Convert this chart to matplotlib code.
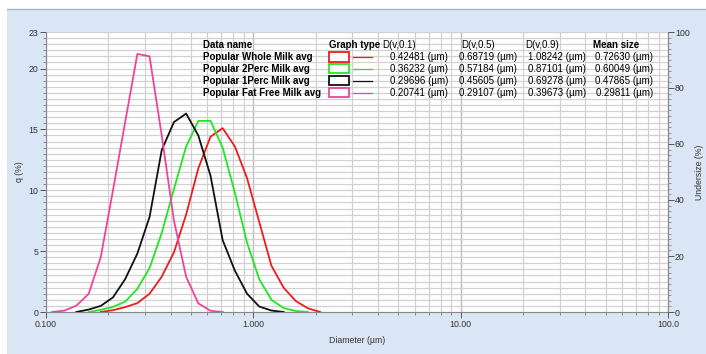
import matplotlib.pyplot as plt
from matplotlib.ticker import FixedLocator, MultipleLocator, FuncFormatter
from matplotlib.patches import Rectangle
from matplotlib.lines import Line2D

plt.rcParams['font.family'] = ['Liberation Sans', 'DejaVu Sans']

# size classes (um) shared by all samples
diam = [0.1069, 0.1224, 0.1401, 0.1605, 0.1837, 0.2104, 0.2409, 0.2758,
        0.3158, 0.3616, 0.4141, 0.4741, 0.5428, 0.6215, 0.7113, 0.8145,
        0.9325, 1.0676, 1.2225, 1.3996, 1.6025, 1.8348, 2.1007]

# q (%) per sample, starting at the given class index
whole_start = 4
whole_q = [0, 0.15, 0.4, 0.73, 1.5, 2.9, 4.9, 8.0, 11.8, 14.4, 15.1, 13.6,
           11.0, 7.4, 3.8, 2.0, 0.9, 0.3, 0]
perc2_start = 3
perc2_q = [0, 0.18, 0.42, 0.85, 1.9, 3.6, 6.5, 10.1, 13.6, 15.7, 15.7, 13.5,
           9.8, 5.7, 2.7, 1.0, 0.33, 0.08, 0]
perc1_start = 2
perc1_q = [0, 0.2, 0.5, 1.2, 2.7, 4.8, 7.8, 13.3, 15.6, 16.3, 14.5, 11.2,
           5.9, 3.4, 1.5, 0.45, 0.12, 0]
fatfree_start = 0
fatfree_q = [0, 0.11, 0.52, 1.48, 4.5, 10.0, 15.6, 21.2, 21.0, 14.5, 7.5,
             2.9, 0.71, 0.1, 0]

names = ["Popular Whole Milk avg", "Popular 2Perc Milk avg",
         "Popular 1Perc Milk avg", "Popular Fat Free Milk avg"]
colors = ["#ee1c1c", "#22e622", "#111111", "#f0449c"]
d10 = ["0.42481", "0.36232", "0.29696", "0.20741"]
d50 = ["0.68719", "0.57184", "0.45605", "0.29107"]
d90 = ["1.08242", "0.87101", "0.69278", "0.39673"]
mean_size = ["0.72630", "0.60049", "0.47865", "0.29811"]

series = [(whole_start, whole_q), (perc2_start, perc2_q),
          (perc1_start, perc1_q), (fatfree_start, fatfree_q)]

W, H = 706, 354


def px(x, y):
    """pixel position -> figure fraction"""
    return x / W, 1 - y / H


fig = plt.figure(figsize=(W / 100, H / 100), dpi=100, facecolor='white')
fig.patches.append(Rectangle(px(7, H), 1, 1 - 9 / H, transform=fig.transFigure,
                             facecolor='#dae5f5', edgecolor='none', zorder=-10))
fig.add_artist(Line2D([7 / W, 1], [1 - 9 / H] * 2, color='#a3b4cc', lw=1))

ax = fig.add_axes([46 / W, 1 - 312 / H, 622 / W, 280 / H])
ax.set_facecolor('white')
ax.set_xscale('log')
ax.set_xlim(0.1, 100)
ax.set_ylim(0, 23)

labels_x = {0.1: '0.100', 1: '1.000', 10: '10.00', 100: '100.0'}
ax.xaxis.set_major_locator(FixedLocator([0.1, 1, 10, 100]))
ax.xaxis.set_major_formatter(FuncFormatter(lambda v, p: labels_x.get(round(v, 3), '')))
minors = [m * 10.0 ** e for e in (-1, 0, 1) for m in range(2, 10)]
ax.xaxis.set_minor_locator(FixedLocator(minors))
ax.xaxis.set_minor_formatter(FuncFormatter(lambda v, p: ''))
ax.set_yticks([0, 5, 10, 15, 20, 23])
ax.yaxis.set_minor_locator(MultipleLocator(0.5))

ax.grid(which='both', axis='y', color='#d2d2d2', lw=0.9)
ax.grid(which='minor', axis='x', color='#d0d0d0', lw=0.9)
ax.grid(which='major', axis='x', color='#bdbdbd', lw=1.0)
ax.set_axisbelow(True)

ax.tick_params(which='major', length=4, width=0.7, labelsize=6.3,
               colors='#555555', labelcolor='#333333', pad=1.5)
ax.tick_params(which='minor', length=2, width=0.6, colors='#777777')
for s in ax.spines.values():
    s.set_color('#888888')
    s.set_linewidth(0.8)
ax.spines['top'].set_visible(False)

ax.set_xlabel('Diameter (µm)', fontsize=6.3, color='#333333', labelpad=5)
ax.set_ylabel('q (%)', fontsize=6.3, color='#333333', labelpad=3)

ax2 = ax.twinx()
ax2.set_ylim(0, 100)
ax2.yaxis.set_major_locator(MultipleLocator(20))
ax2.yaxis.set_minor_locator(MultipleLocator(2))
ax2.tick_params(which='major', length=4, width=0.7, labelsize=6.3,
                colors='#555555', labelcolor='#333333', pad=1)
ax2.tick_params(which='minor', length=2, width=0.6, colors='#888888')
for s in ax2.spines.values():
    s.set_visible(False)
ax2.set_ylabel('Undersize (%)', fontsize=6.3, color='#333333', labelpad=4)

for (start, q), c in zip(series, colors):
    ax.plot(diam[start:start + len(q)], q, color=c, lw=1.3, zorder=3)

# summary table drawn on the plot
fs = 7
hy = 45
fig.text(*px(203, hy), 'Data name', fontsize=fs, weight='bold', va='center')
fig.text(*px(329, hy), 'Graph type', fontsize=fs, weight='bold', va='center')
fig.text(*px(382, hy), 'D(v,0.1)', fontsize=fs, va='center')
fig.text(*px(461, hy), 'D(v,0.5)', fontsize=fs, va='center')
fig.text(*px(525, hy), 'D(v,0.9)', fontsize=fs, va='center')
fig.text(*px(593, hy), 'Mean size', fontsize=fs, weight='bold', va='center')

for i, name in enumerate(names):
    y = 57 + 11.9 * i
    fig.text(*px(203, y), name, fontsize=fs, weight='bold', va='center')
    fig.patches.append(Rectangle(px(329, y + 4.5), 20 / W, 9 / H,
                                 transform=fig.transFigure, facecolor='white',
                                 edgecolor=colors[i], lw=1.3, zorder=5))
    fig.add_artist(Line2D([353 / W, 372 / W], [1 - y / H] * 2,
                          color=colors[i], lw=0.9))
    for xr, vals in ((448, d10), (517, d50), (586, d90), (653, mean_size)):
        fig.text(*px(xr, y), f'{vals[i]} (µm)', fontsize=fs, ha='right',
                 va='center')

fig.savefig('out.png', dpi=100)
